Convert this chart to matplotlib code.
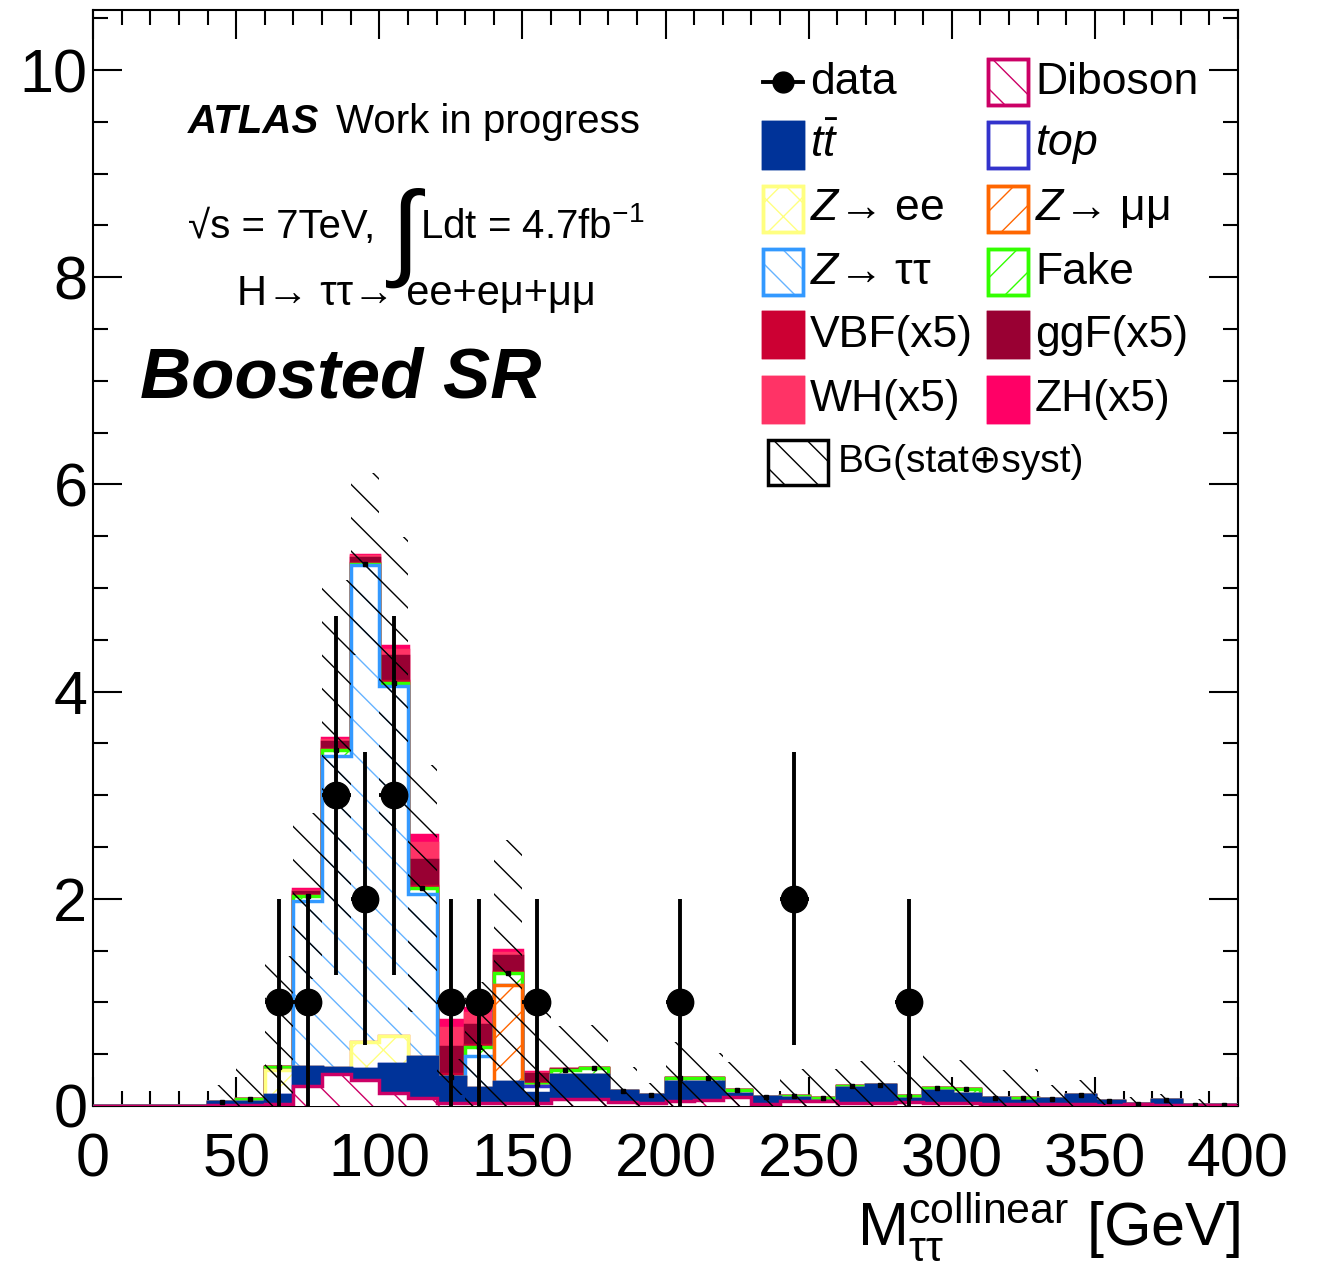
import numpy as np
import matplotlib.pyplot as plt
from matplotlib.patches import Rectangle
from matplotlib.lines import Line2D
from matplotlib.ticker import MultipleLocator

plt.rcParams['font.family'] = ['Liberation Sans', 'DejaVu Sans']
plt.rcParams['mathtext.fontset'] = 'custom'
plt.rcParams['mathtext.rm'] = 'Liberation Sans'
plt.rcParams['mathtext.it'] = 'Liberation Sans:italic'
plt.rcParams['mathtext.bf'] = 'Liberation Sans:bold'
plt.rcParams['hatch.linewidth'] = 1.0

# 10 GeV bins from 0 to 400 GeV
edges = np.arange(0, 410, 10)

# background expectations per bin
diboson = [0, 0, 0, 0, 0.01, 0.01, 0.02, 0.19, 0.31, 0.25,
           0.13, 0.08, 0.03, 0.03, 0.03, 0.03, 0.07, 0.07, 0.04, 0.03,
           0.05, 0.06, 0.09, 0.02, 0.05, 0.05, 0.03, 0.03, 0.04, 0.03,
           0.03, 0.02, 0.02, 0.02, 0.02, 0.01, 0.02, 0.01, 0.01, 0.005]
ttbar = [0, 0, 0, 0, 0.03, 0.03, 0.09, 0.19, 0.06, 0.11,
         0.28, 0.39, 0.25, 0.14, 0.20, 0.10, 0.23, 0.23, 0.10, 0.08,
         0.185, 0.175, 0.03, 0.07, 0.03, 0, 0.14, 0.17, 0.03, 0.11,
         0.09, 0.06, 0.03, 0.05, 0.09, 0.04, 0, 0.05, 0, 0]
single_top = [0] * 15 + [0.06] + [0] * 24
zee = [0] * 6 + [0.24, 0, 0, 0.26, 0.27] + [0] * 29
zmumu = [0] * 14 + [0.94] + [0] * 25
ztautau = [0] * 7 + [1.60, 3.01, 4.60, 3.37, 1.58, 0, 0.31] + [0] * 26
fake = [0, 0, 0, 0, 0, 0.03, 0.03, 0.05, 0.06, 0.01,
        0.03, 0.05, 0, 0.09, 0.11, 0.02, 0.05, 0.07, 0, 0,
        0.04, 0.035, 0.03, 0, 0.02, 0.03, 0.02, 0, 0.03, 0.03,
        0.04, 0, 0.03, 0, 0, 0, 0, 0, 0, 0]

# signal samples, already scaled by 5
vbf = [0] * 7 + [0.005, 0.01, 0.01, 0.02, 0.02, 0.03, 0.02, 0.01, 0.01] + [0] * 24
ggf = [0] * 7 + [0.03, 0.06, 0.05, 0.24, 0.25, 0.26, 0.19, 0.16, 0.09, 0.01] + [0] * 23
wh = [0] * 7 + [0.015, 0.025, 0.02, 0.06, 0.17, 0.18, 0.12, 0.03, 0.01] + [0] * 24
zh = [0] * 7 + [0.01, 0.015, 0.01, 0.04, 0.08, 0.08, 0.05, 0.03, 0.01] + [0] * 24

# total background uncertainty (stat+syst)
bkg_err = [0, 0, 0, 0, 0.16, 0.33, 1.07, 0.80, 1.64, 0.88,
           1.41, 1.19, 0.17, 0.63, 1.29, 0.84, 0.42, 0.41, 0.24, 0.11,
           0.34, 0.24, 0.27, 0.13, 0.26, 0.28, 0.24, 0.23, 0.30, 0.34,
           0.28, 0.27, 0.28, 0.13, 0.14, 0.04, 0.07, 0.06, 0.06, 0.01]

# observed events
data_x = [65, 75, 85, 95, 105, 125, 135, 155, 205, 245, 285]
data_y = [1, 1, 3, 2, 3, 1, 1, 1, 1, 2, 1]

# stack order bottom -> top: (values, face, hatch colour, hatch)
stack = [
    (diboson, 'white', '#cc0066', '\\'),
    (ttbar, '#003399', '#003399', None),
    (single_top, 'white', '#3333cc', None),
    (zee, 'white', '#ffff80', 'x'),
    (zmumu, 'white', '#ff6600', '/'),
    (ztautau, 'white', '#66b3ff', '\\'),
    (fake, 'white', '#33ff00', '/'),
    (vbf, '#cc0033', '#cc0033', None),
    (ggf, '#990033', '#990033', None),
    (wh, '#ff3366', '#ff3366', None),
    (zh, '#ff0066', '#ff0066', None),
]
outline = ['#cc0066', '#003399', '#3333cc', '#ffff80', '#ff6600', '#3399ff',
           '#33ff00', '#cc0033', '#990033', '#ff3366', '#ff0066']

W, H = 1320, 1265
fig = plt.figure(figsize=(W / 100, H / 100), dpi=100)
ax = fig.add_axes([93 / W, 1 - 1106 / H, (1238 - 93) / W, (1106 - 10) / H])

cums = np.cumsum([np.array(s[0], dtype=float) for s in stack], axis=0)

# draw cumulative histograms from the top down, so lower ones cover upper ones
for i in range(len(stack) - 1, -1, -1):
    vals, face, col, hatch = stack[i]
    top = cums[i]
    z = 2 + (len(stack) - i) * 0.1
    ax.stairs(top, edges, baseline=0, fill=True, facecolor=face,
              edgecolor=col, hatch=hatch, linewidth=0, zorder=z)
    ax.stairs(top, edges, baseline=0, color=outline[i], linewidth=2.5, zorder=z + 0.05)

bkg_tot = cums[6]
err = np.array(bkg_err)
ax.stairs(bkg_tot + err, edges, baseline=np.clip(bkg_tot - err, 0, None),
          fill=True, facecolor='none', edgecolor='black', hatch='\\',
          linewidth=0, zorder=4)
centers = edges[:-1] + 5
nz = bkg_tot > 0
ax.plot(centers[nz], bkg_tot[nz], 's', color='black', ms=2.5, zorder=4.1)

dy = np.sqrt(data_y)
ax.errorbar(data_x, data_y, yerr=dy, xerr=5, fmt='o', color='black',
            ms=19, elinewidth=2.8, capsize=0, zorder=6)

ax.set_xlim(0, 400)
ax.set_ylim(0, 10.58)
ax.xaxis.set_major_locator(MultipleLocator(50))
ax.xaxis.set_minor_locator(MultipleLocator(10))
ax.yaxis.set_major_locator(MultipleLocator(2))
ax.yaxis.set_minor_locator(MultipleLocator(0.5))
ax.tick_params(which='both', direction='in', top=True, right=True, width=1.5)
ax.tick_params(which='major', length=21, labelsize=44)
ax.tick_params(which='minor', length=10.5)
ax.tick_params(axis='x', pad=19)
ax.tick_params(axis='y', pad=4)
for sp in ax.spines.values():
    sp.set_linewidth(1.5)

fig.text(1240 / W, 1 - 1245 / H, r'$\mathrm{M}_{\mathrm{\tau\tau}}^{\mathrm{collinear}}$ [GeV]',
         fontsize=44, ha='right', va='baseline')


def fx(px):
    return px / W


def fy(py):
    return 1 - py / H


# labels inside the frame
fig.text(fx(188), fy(133), 'ATLAS', fontsize=29, fontweight='bold', style='italic', va='baseline')
fig.text(fx(336), fy(133), 'Work in progress', fontsize=29, va='baseline')
fig.text(fx(188), fy(238), '\u221as = 7TeV,', fontsize=29, va='baseline')
fig.text(fx(390), fy(266), '\u222b', fontsize=76, va='baseline')
fig.text(fx(420), fy(238), 'Ldt = 4.7fb$^{-1}$', fontsize=29, va='baseline')
fig.text(fx(237), fy(305), 'H\u2192 \u03c4\u03c4\u2192 ee+e\u03bc+\u03bc\u03bc', fontsize=30, va='baseline')
fig.text(fx(140), fy(398), 'Boosted SR', fontsize=51, fontweight='bold', style='italic', va='baseline')


# legend, two columns
def leg_box(x0, yc, face, col, hatch, w=40, h=45):
    fig.add_artist(Rectangle((fx(x0), fy(yc + h / 2)), w / W, h / H,
                             transform=fig.transFigure, facecolor=face,
                             edgecolor=col, hatch=hatch, linewidth=2.5))


rows = [82, 145, 209, 272, 335, 399]
col1, col2 = 763, 988
lsize = 32
fig.add_artist(Line2D([fx(763), fx(803)], [fy(82), fy(82)], color='black', lw=2.8,
                      transform=fig.transFigure))
fig.add_artist(Line2D([fx(783)], [fy(82)], marker='o', ms=15, color='black',
                      transform=fig.transFigure))
fig.text(fx(810), fy(82), 'data', fontsize=lsize, va='center')

legend_items = [
    (col2, rows[0], 'Diboson', 0),
    (col1, rows[1], r'$t\bar{t}$', 1),
    (col2, rows[1], r'$top$', 2),
    (col1, rows[2], '$Z$\u2192 ee', 3),
    (col2, rows[2], '$Z$\u2192 \u03bc\u03bc', 4),
    (col1, rows[3], '$Z$\u2192 \u03c4\u03c4', 5),
    (col2, rows[3], 'Fake', 6),
    (col1, rows[4], 'VBF(x5)', 7),
    (col2, rows[4], 'ggF(x5)', 8),
    (col1, rows[5], 'WH(x5)', 9),
    (col2, rows[5], 'ZH(x5)', 10),
]
for x0, yc, label, k in legend_items:
    vals, face, col, hatch = stack[k]
    leg_box(x0, yc, face, col, hatch)
    fig.add_artist(Rectangle((fx(x0), fy(yc + 22.5)), 40 / W, 45 / H,
                             transform=fig.transFigure, facecolor='none',
                             edgecolor=outline[k], linewidth=2.5))
    fig.text(fx(x0 + 47), fy(yc), label, fontsize=lsize, va='center')

leg_box(768, 462, 'white', 'black', '\\', w=60, h=45)
fig.text(fx(838), fy(462), 'BG(stat\u2295syst)', fontsize=28, va='center')

fig.savefig('out.png', dpi=100)
